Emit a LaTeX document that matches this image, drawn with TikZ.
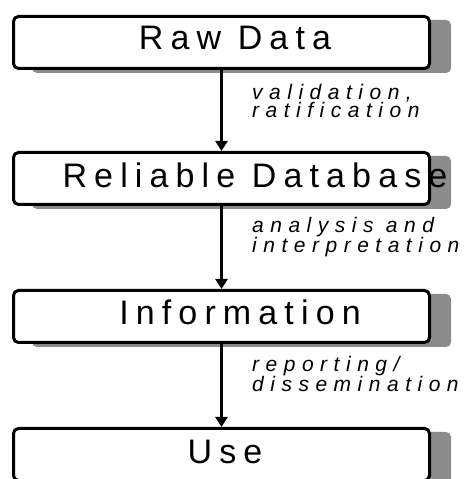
\documentclass[tikz,border=0pt]{standalone}
\usepackage{fontspec}
\newfontfamily\boxfont[LetterSpace=21]{Liberation Sans}
\newfontfamily\howfont[LetterSpace=31]{Liberation Sans}
\usetikzlibrary{arrows.meta}

\begin{document}
\begin{tikzpicture}[x=1pt, y=1pt]
    \tikzstyle{stage}=[draw,line width=3pt,rounded corners=5pt,fill=white,inner sep=0pt,minimum width=416pt,minimum height=52pt];
    \tikzstyle{backing}=[fill=black!45,rounded corners=5pt,inner sep=0pt,minimum width=419pt,minimum height=53pt];
    \tikzstyle{title}=[font=\boxfont\fontsize{34}{40}\selectfont,inner sep=0pt,anchor=base];
    \tikzstyle{how}=[font=\howfont\itshape\fontsize{21}{14}\selectfont,align=left,inner sep=0pt,anchor=base west];
    \tikzstyle{flow}=[line width=2.5pt,-{Triangle[width=12pt,length=10pt]}];
    \useasboundingbox (0,0) rectangle (472,479);
    \clip (0,0) rectangle (472,479);
    %1
    \begin{scope}[shift={(0,436.5)}]
    	\node[backing] (s1) at (241.5,-4) {};
    	\node[stage] (b1) at (221.5,0) {};
    	\node[title] (t1) at (235,-7.5) {Raw Data};
    \end{scope}
    %2
    \begin{scope}[shift={(0,300.5)}]
    	\node[backing] (s2) at (241.5,-4) {};
    	\node[stage] (b2) at (221.5,0) {};
    	\node[title] (t2) at (255,-9.5) {Reliable Database};
    \end{scope}
    %3
    \begin{scope}[shift={(0,162.5)}]
    	\node[backing] (s3) at (241.5,-4) {};
    	\node[stage] (b3) at (221.5,0) {};
    	\node[title] (t3) at (240,-8.5) {Information};
    \end{scope}
    %4
    \begin{scope}[shift={(0,24.5)}]
    	\node[backing] (s4) at (241.5,-4) {};
    	\node[stage] (b4) at (221.5,0) {};
    	\node[title] (t4) at (225,-8.5) {Use};
    \end{scope}
    %arrows
    \draw[flow] (b1) -- (b2);
    \draw[flow] (b2) -- (b3);
    \draw[flow] (b3) -- (b4);
    \node[how] (h1) at (252,361) {validation,\\ratification};
    \node[how] (h2) at (252,226) {analysis and\\interpretation};
    \node[how] (h3) at (252,87) {reporting/\\dissemination};
\end{tikzpicture}
\end{document}
